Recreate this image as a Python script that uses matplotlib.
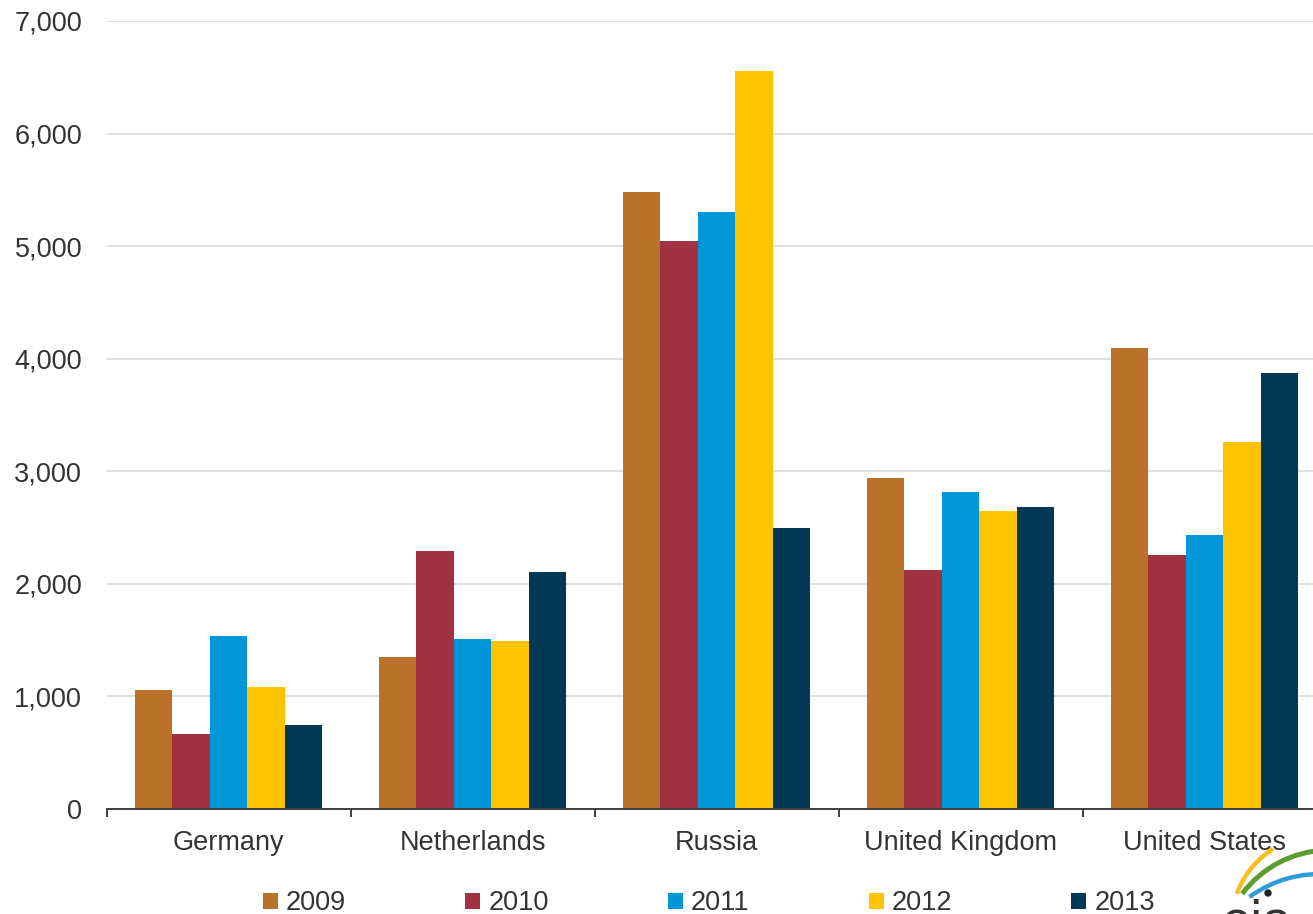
import numpy as np
import matplotlib
matplotlib.use("Agg")
import matplotlib.pyplot as plt
from matplotlib.patches import Arc, Circle
from matplotlib.ticker import FuncFormatter

countries = ["Germany", "Netherlands", "Russia", "United Kingdom", "United States"]
years = ["2009", "2010", "2011", "2012", "2013"]
v2009 = [1060, 1350, 5480, 2940, 4095]
v2010 = [670, 2290, 5045, 2125, 2255]
v2011 = [1540, 1510, 5300, 2815, 2435]
v2012 = [1080, 1490, 6555, 2645, 3260]
v2013 = [746, 2105, 2495, 2680, 3875]
colors = ["#BA722B", "#A03242", "#0096D7", "#FFC400", "#003953"]

plt.rcParams["font.family"] = ["Liberation Sans", "DejaVu Sans"]
fs = 19.5
txt = "#333333"

W, H = 1313, 914
fig = plt.figure(figsize=(W / 100, H / 100), dpi=100)
ax = fig.add_axes([106.5 / W, 1 - 809 / H, 1220 / W, 788 / H])

x = np.arange(len(countries))
bw = 0.1535
series = [v2009, v2010, v2011, v2012, v2013]
for i, (vals, c, yr) in enumerate(zip(series, colors, years)):
    ax.bar(x + (i - 2) * bw, vals, bw, color=c, label=yr, zorder=3)

ax.set_xlim(-0.5, len(countries) - 0.5)
ax.set_ylim(0, 7000)
ax.set_yticks(range(0, 7001, 1000))
ax.yaxis.set_major_formatter(FuncFormatter(lambda v, p: f"{int(v):,}"))
ax.grid(axis="y", color="#d9d9d9", lw=1.2, zorder=0)
ax.tick_params(axis="y", length=0, pad=17.5, labelsize=fs, labelcolor=txt)

ax.set_xticks(np.arange(-0.5, len(countries)), labels=[])
ax.set_xticks(x, labels=countries, minor=True)
ax.tick_params(axis="x", which="major", length=6, width=1.4, color="#404040", direction="out")
ax.tick_params(axis="x", which="minor", length=0, pad=15, labelsize=fs, labelcolor=txt)

for s in ["top", "right", "left"]:
    ax.spines[s].set_visible(False)
ax.spines["bottom"].set_color("#404040")
ax.spines["bottom"].set_linewidth(1.4)
ax.spines["bottom"].set_zorder(4)

fig.legend(loc="center left", bbox_to_anchor=(263 / W, 1 - 903.5 / H), ncol=5,
           frameon=False, fontsize=fs, labelcolor=txt, handlelength=0.55,
           handleheight=0.55, handletextpad=0.3, columnspacing=4.4,
           borderpad=0, borderaxespad=0)

# eia logo, bottom right corner (partly cut off)
lg = fig.add_axes([1200 / W, 0, 113 / W, 84 / H])
lg.set_xlim(1200, 1313)
lg.set_ylim(0, 84)
lg.axis("off")
lg.add_patch(Arc((1320, -10), 177, 177, theta1=122, theta2=160, color="#F6BE1E", lw=3.2))
lg.add_patch(Arc((1330, -46), 220, 220, theta1=92, theta2=143, color="#5B9E2F", lw=3.6))
lg.add_patch(Arc((1320, -80), 240, 240, theta1=85, theta2=126, color="#2F9BD8", lw=3.2))
lg.add_patch(Circle((1268, 21), 3, color="#222222"))
lg.text(1222, -24, "eia", fontsize=38, color="#333333", va="baseline", ha="left", clip_on=False)

fig.savefig("out.png", dpi=100)
